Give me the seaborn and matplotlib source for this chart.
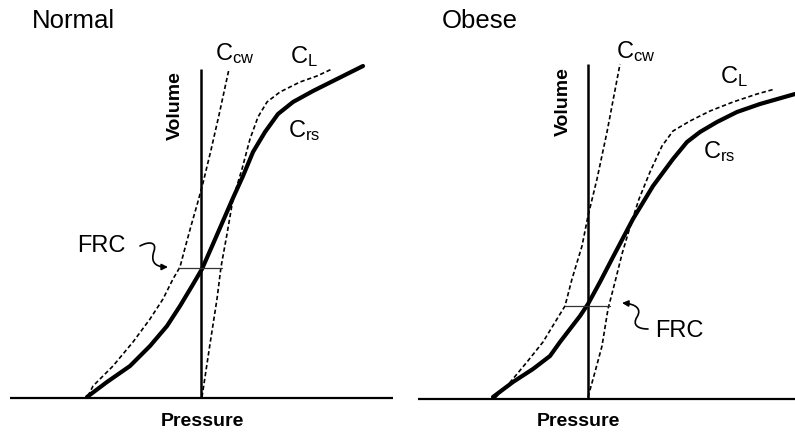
import matplotlib
matplotlib.use("Agg")
import matplotlib.pyplot as plt
from matplotlib.patches import FancyArrowPatch
from matplotlib.path import Path
import seaborn as sns

# =========================
# DATA (pressure, volume)
# =========================

# Normal
normal_ccw_p = [-113, -108, -88, -68, -51, -38, -28, -21, -16, -10, -4, 2, 10, 18, 28]
normal_ccw_v = [2, 12, 32, 56, 79, 99, 119, 131, 150, 172, 193, 215, 248, 283, 329]
normal_cl_p = [1, 9, 16, 20, 26, 32, 41, 49, 57, 66, 79, 99, 116, 131]
normal_cl_v = [1, 54, 99, 131, 164, 199, 229, 259, 281, 296, 306, 316, 322, 329]
normal_crs_p = [-114, -94, -71, -51, -34, -21, -9, 1, 12, 22, 32, 42, 52, 64, 77, 92, 112, 132, 162]
normal_crs_v = [1, 16, 32, 52, 72, 92, 112, 129, 154, 177, 200, 222, 246, 266, 284, 296, 307, 317, 332]
normal_frc_p = [-23, 21]
normal_frc_v = [130, 130]

# Obese
obese_ccw_p = [-93, -81, -61, -45, -31, -23, -16, -6, 0, 9, 19, 32]
obese_ccw_v = [1, 13, 37, 57, 80, 93, 120, 153, 183, 220, 267, 335]
obese_cl_p = [0, 7, 14, 20, 27, 34, 42, 51, 62, 74, 85, 102, 122, 145, 169, 187]
obese_cl_v = [2, 27, 53, 90, 117, 145, 172, 200, 227, 253, 268, 278, 288, 297, 305, 310]
obese_crs_p = [-95, -75, -55, -38, -28, -18, -8, 0, 12, 25, 45, 65, 85, 99, 112, 129, 149, 172, 207]
obese_crs_v = [2, 17, 30, 43, 57, 70, 83, 95, 117, 142, 180, 213, 240, 257, 267, 277, 287, 295, 305]
obese_frc_p = [-23, 22]
obese_frc_v = [93, 93]

sns.set_theme(style="white")
plt.rcParams["font.family"] = ["Liberation Sans", "DejaVu Sans"]
plt.rcParams["mathtext.default"] = "regular"
plt.rcParams["text.color"] = "black"

fig = plt.figure(figsize=(7.95, 4.35), dpi=100)
fig.patch.set_facecolor("white")

dash = (0, (2.6, 1.6))


def draw_panel(ax, title, ccw, cl, crs, frc, base, vtop, labels, frc_text, squiggle):
    ax.axis("off")
    # axes lines
    ax.plot(base, [0, 0], color="black", lw=1.6, solid_capstyle="butt")
    ax.plot([0, 0], [0, vtop], color="black", lw=1.8, solid_capstyle="butt")
    sns.lineplot(x=ccw[0], y=ccw[1], ax=ax, sort=False, estimator=None,
                 color="black", lw=1.2, linestyle=dash)
    sns.lineplot(x=cl[0], y=cl[1], ax=ax, sort=False, estimator=None,
                 color="black", lw=1.2, linestyle=dash)
    sns.lineplot(x=crs[0], y=crs[1], ax=ax, sort=False, estimator=None,
                 color="black", lw=3.0, solid_capstyle="round", solid_joinstyle="round")
    ax.plot(frc[0], frc[1], color="#333333", lw=0.9)

    ax.text(title[1], title[2], title[0], fontsize=18.5, va="baseline", ha="left")
    ax.text(labels["vol"][0], labels["vol"][1], "Volume", fontsize=14, fontweight="bold",
            rotation=90, ha="center", va="center")
    ax.text(labels["pres"][0], labels["pres"][1], "Pressure", fontsize=14, fontweight="bold",
            ha="center", va="center")
    ax.text(labels["ccw"][0], labels["ccw"][1], r"$C_{cw}$", fontsize=17, va="baseline")
    ax.text(labels["cl"][0], labels["cl"][1], r"$C_L$", fontsize=17, va="baseline")
    ax.text(labels["crs"][0], labels["crs"][1], r"$C_{rs}$", fontsize=17, va="baseline")
    ax.text(frc_text[0], frc_text[1], "FRC", fontsize=17, va="baseline")

    codes = [Path.MOVETO, Path.CURVE4, Path.CURVE4, Path.CURVE4,
             Path.CURVE4, Path.CURVE4, Path.CURVE4]
    arrow = FancyArrowPatch(path=Path(squiggle, codes), arrowstyle="-|>",
                            mutation_scale=9, lw=1.2, color="black")
    ax.add_patch(arrow)


# Normal panel
ax1 = fig.add_axes([0, 0, 0.5, 1])
ax1.set_xlim(-201, 196.5)
ax1.set_ylim(-36, 399)
draw_panel(
    ax1, ("Normal", -169, 371),
    (normal_ccw_p, normal_ccw_v), (normal_cl_p, normal_cl_v),
    (normal_crs_p, normal_crs_v), (normal_frc_p, normal_frc_v),
    [-191, 192], 329,
    {"vol": (-26, 293), "pres": (1, -23), "ccw": (14, 339),
     "cl": (89, 336), "crs": (87, 262)},
    (-124, 147),
    [(-61, 152), (-52, 157), (-44, 156), (-47, 147),
     (-50, 138), (-48, 131), (-33, 131)],
)

# Obese panel
ax2 = fig.add_axes([0.5, 0, 0.5, 1])
ax2.set_xlim(-190.5, 207)
ax2.set_ylim(-35, 400)
draw_panel(
    ax2, ("Obese", -146, 372),
    (obese_ccw_p, obese_ccw_v), (obese_cl_p, obese_cl_v),
    (obese_crs_p, obese_crs_v), (obese_frc_p, obese_frc_v),
    [-170, 207], 335,
    {"vol": (-25, 298), "pres": (-10, -22), "ccw": (28, 342),
     "cl": (132, 317), "crs": (115, 242)},
    (67, 63),
    [(60, 70), (50, 70), (44, 74), (49, 82),
     (54, 90), (48, 95), (34, 96)],
)

fig.savefig("out.png", dpi=100, facecolor="white")
